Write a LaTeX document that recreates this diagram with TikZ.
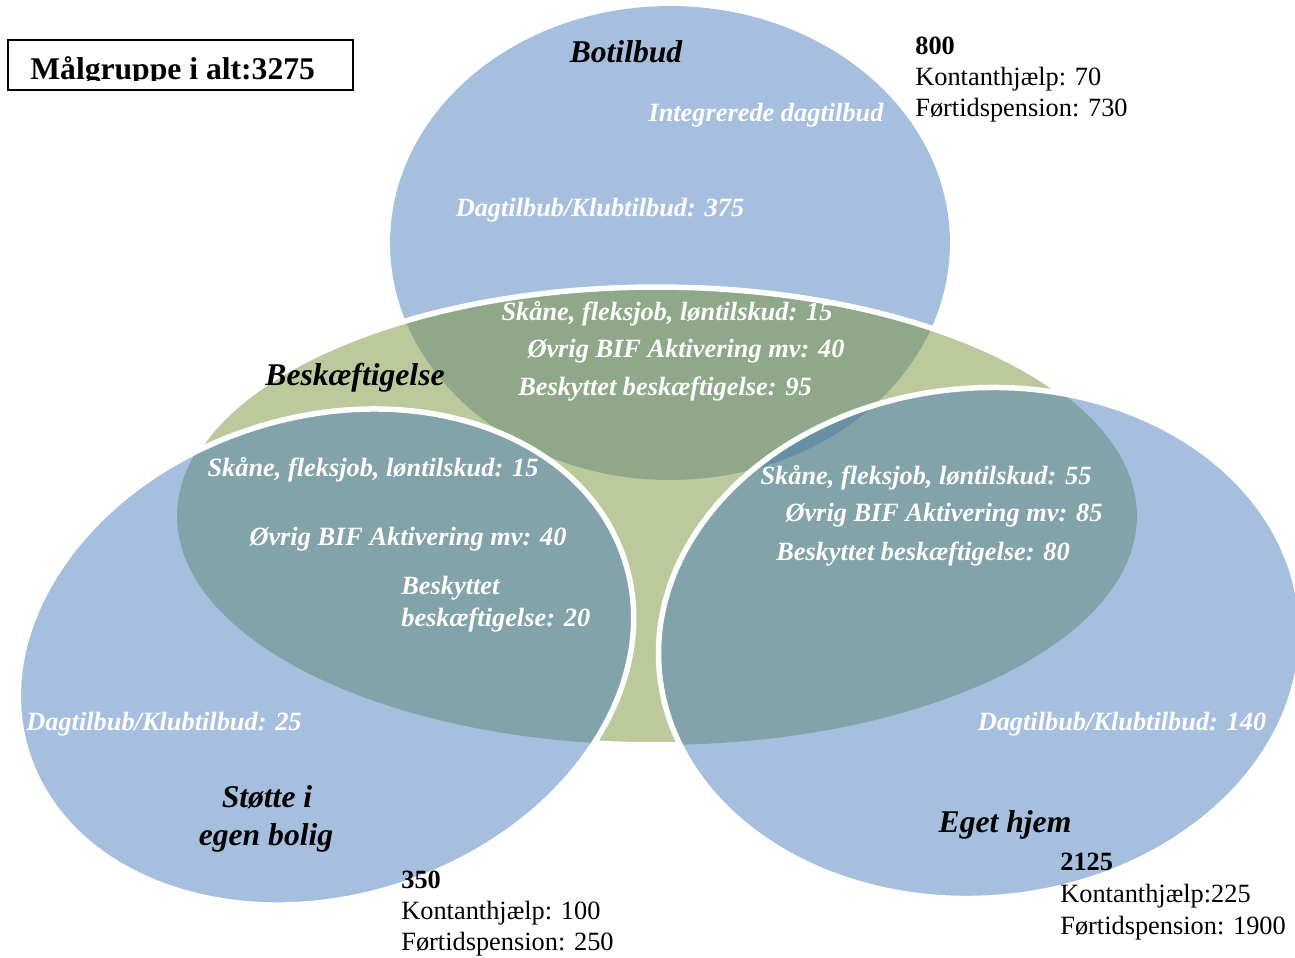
\documentclass[tikz,border=0pt]{standalone}
\usepackage{fontspec}
\setmainfont{Liberation Serif}

\definecolor{venblue}{RGB}{167,191,222}
\definecolor{vengreen}{RGB}{187,201,157}
\definecolor{vendark}{RGB}{143,168,137}
\definecolor{venteal}{RGB}{130,163,169}
\definecolor{venmid}{RGB}{103,144,165}

\begin{document}
\begin{tikzpicture}[x=0.02cm,y=-0.02cm,
  rim/.style={draw=white,line width=0.11cm},
  lbl/.style={text=white,inner sep=0pt,anchor=base,font=\fontsize{15}{18}\selectfont\bfseries\itshape},
  ttl/.style={inner sep=0pt,anchor=base,font=\fontsize{18}{21}\selectfont\bfseries\itshape},
  stat/.style={inner sep=0pt,anchor=base west,font=\fontsize{15}{18}\selectfont}]

\useasboundingbox (0,0) rectangle (1295,957);

% Botilbud
\fill[venblue] (670,243) ellipse [x radius=5.6cm,y radius=4.74cm];

% Beskaeftigelse
\fill[vengreen] (657,516) ellipse [x radius=9.6cm,y radius=4.58cm];
\begin{scope}
\clip (670,243) ellipse [x radius=5.6cm,y radius=4.74cm];
\fill[vendark] (657,516) ellipse [x radius=9.6cm,y radius=4.58cm];
\end{scope}
\draw[rim] (657,516) ellipse [x radius=9.6cm,y radius=4.58cm];

% Stoette i egen bolig
\fill[venblue,rotate around={18:(326,657)}] (326,657) ellipse [x radius=6.28cm,y radius=4.8cm];
\begin{scope}
\clip[rotate around={18:(326,657)}] (326,657) ellipse [x radius=6.28cm,y radius=4.8cm];
\fill[venteal] (657,516) ellipse [x radius=9.6cm,y radius=4.58cm];
\end{scope}
\draw[rim,rotate around={18:(326,657)}] (326,657) ellipse [x radius=6.28cm,y radius=4.8cm];

% Eget hjem
\fill[venblue,rotate around={5:(980,643)}] (980,643) ellipse [x radius=6.44cm,y radius=5.1cm];
\begin{scope}
\clip[rotate around={5:(980,643)}] (980,643) ellipse [x radius=6.44cm,y radius=5.1cm];
\fill[venteal] (657,516) ellipse [x radius=9.6cm,y radius=4.58cm];
\clip (670,243) ellipse [x radius=5.6cm,y radius=4.74cm];
\fill[venmid] (657,516) ellipse [x radius=9.6cm,y radius=4.58cm];
\end{scope}
\draw[rim,rotate around={5:(980,643)}] (980,643) ellipse [x radius=6.44cm,y radius=5.1cm];

% total box
\node (maal) [draw,line width=0.04cm,anchor=north west,inner sep=0pt,
  minimum width=6.9cm,minimum height=1cm] at (7,39) {};
\begin{scope}
\clip (7,39) rectangle (352,80);
\node (maaltxt) [inner sep=0pt,anchor=base west,font=\fontsize{18}{21}\selectfont\bfseries]
  at (30,79) {Målgruppe i alt:3275};
\end{scope}

\node (bot) [ttl] at (626,62) {Botilbud};
\node (botint) [lbl] at (766,121) {Integrerede dagtilbud};
\node (botdag) [lbl] at (600,216) {Dagtilbub/Klubtilbud: 375};
\node (n800) [stat,font=\fontsize{15}{18}\selectfont\bfseries] at (915,54) {800};
\node (k800) [stat] at (915,85) {Kontanthjælp: 70};
\node (f800) [stat] at (915,116) {Førtidspension: 730};

\node (botska) [lbl] at (667,320) {Skåne, fleksjob, løntilskud: 15};
\node (botovr) [lbl] at (686,357) {Øvrig BIF Aktivering mv: 40};
\node (botbes) [lbl] at (665,395) {Beskyttet beskæftigelse: 95};

\node (besk) [ttl] at (355,385) {Beskæftigelse};

\node (stoska) [lbl] at (373,476) {Skåne, fleksjob, løntilskud: 15};
\node (stoovr) [lbl] at (408,545) {Øvrig BIF Aktivering mv: 40};
\node (stobes) [lbl,anchor=base west] at (401,594) {Beskyttet};
\node (stobes2) [lbl,anchor=base west] at (401,626) {beskæftigelse: 20};
\node (stodag) [lbl] at (164,730) {Dagtilbub/Klubtilbud: 25};
\node (sto) [ttl] at (267,807) {Støtte i};
\node (sto2) [ttl] at (266,845) {egen bolig};
\node (n350) [stat,font=\fontsize{15}{18}\selectfont\bfseries] at (401,888) {350};
\node (k350) [stat] at (401,919) {Kontanthjælp: 100};
\node (f350) [stat] at (401,950) {Førtidspension: 250};

\node (egeska) [lbl] at (926,484) {Skåne, fleksjob, løntilskud: 55};
\node (egeovr) [lbl] at (944,521) {Øvrig BIF Aktivering mv: 85};
\node (egebes) [lbl] at (923,560) {Beskyttet beskæftigelse: 80};
\node (egedag) [lbl] at (1122,730) {Dagtilbub/Klubtilbud: 140};
\node (ege) [ttl] at (1005,832) {Eget hjem};
\node (n2125) [stat,font=\fontsize{15}{18}\selectfont\bfseries] at (1060,870) {2125};
\node (k2125) [stat] at (1060,902) {Kontanthjælp:225};
\node (f2125) [stat] at (1060,934) {Førtidspension: 1900};

\end{tikzpicture}
\end{document}
